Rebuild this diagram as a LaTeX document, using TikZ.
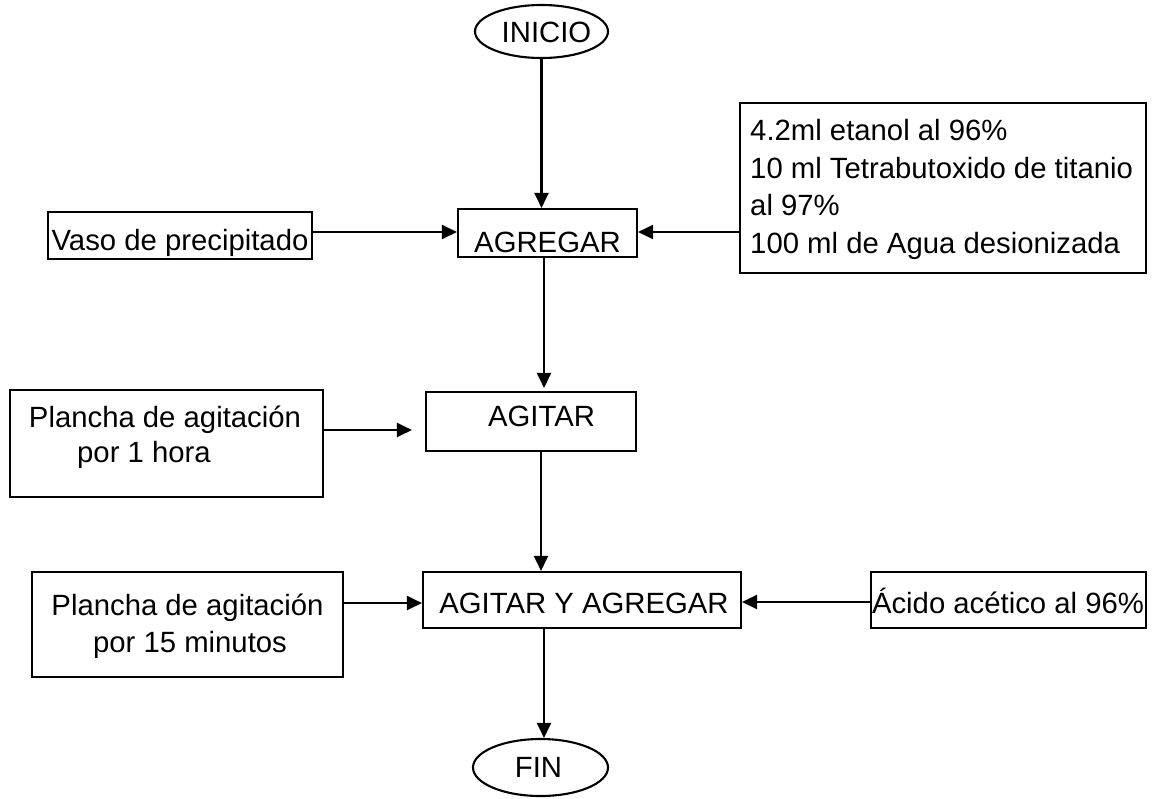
\documentclass[tikz,border=0pt]{standalone}
\usepackage{fontspec}
\setmainfont{Liberation Sans}
\usetikzlibrary{arrows.meta,shapes.geometric}
\begin{document}
\begin{tikzpicture}[x=1pt,y=-1pt,
  frame/.style={draw=black,line width=2.1pt,inner sep=0pt,rectangle},
  oval/.style={draw=black,line width=2.1pt,ellipse,inner sep=0pt},
  txt/.style={inner sep=0pt,anchor=base,font=\fontsize{29.3}{37}\selectfont},
  txtl/.style={txt,anchor=base west},
  arr/.style={draw=black,line width=2.1pt,-{Triangle[length=15pt,width=14pt]}}]
\useasboundingbox (0,0) rectangle (1153,798);
% shapes
\node[oval,minimum width=133pt,minimum height=53pt] (inicio) at (541.5,31.5) {};
\node[frame,minimum width=264pt,minimum height=47pt] (vaso) at (180,235.5) {};
\node[frame,minimum width=179pt,minimum height=48pt] (agregar) at (547.5,233) {};
\node[frame,minimum width=406pt,minimum height=170pt] (ingr) at (943,188) {};
\node[frame,minimum width=210pt,minimum height=59pt] (agitar) at (531,421.5) {};
\node[frame,minimum width=313pt,minimum height=107pt] (plancha1) at (166.5,443.5) {};
\node[frame,minimum width=318pt,minimum height=56pt] (aya) at (582,600) {};
\node[frame,minimum width=311pt,minimum height=105pt] (plancha2) at (187.5,624.5) {};
\node[frame,minimum width=275pt,minimum height=56pt] (acido) at (1008.5,600) {};
\node[oval,minimum width=135pt,minimum height=57pt] (fin) at (540.5,767.5) {};
% texts
\node[txt] (tInicio) at (546.5,42) {INICIO};
\node[txt] (tVaso) at (180,250) {Vaso de precipitado};
\node[txt] (tAgregar) at (547.5,252) {AGREGAR};
\node[txtl] (tIng1) at (750,140) {4.2ml etanol al 96\%};
\node[txtl] (tIng2) at (750,178) {10 ml Tetrabutoxido de titanio};
\node[txtl] (tIng3) at (750,215) {al 97\%};
\node[txtl] (tIng4) at (750,253) {100 ml de Agua desionizada};
\node[txt] (tAgitar) at (541.5,426) {AGITAR};
\node[txt] (tPl1a) at (165,427) {Plancha de agitación};
\node[txtl] (tPl1b) at (77,462) {por 1 hora};
\node[txt] (tAya) at (584,613) {AGITAR Y AGREGAR};
\node[txt] (tPl2a) at (187.5,615) {Plancha de agitación};
\node[txt] (tPl2b) at (190,652) {por 15 minutos};
\node[txt] (tAcido) at (1008,613) {Ácido acético al 96\%};
\node[txt] (tFin) at (538.5,777) {FIN};
% helper coordinates
\coordinate (c1) at ([yshift=3.5pt]vaso.east);
\coordinate (c2) at (ingr.west |- c1);
\coordinate (c3) at ([xshift=-3.5pt]agregar.south);
\coordinate (c4) at ([yshift=13.5pt]plancha1.east);
\coordinate (c5) at ([xshift=10pt]agitar.south);
\coordinate (c6) at ([yshift=21.5pt]plancha2.east);
\coordinate (c7) at ([yshift=-2pt]acido.west);
\coordinate (c8) at ([xshift=3.5pt]fin.north);
% connectors
\draw[arr] (inicio.south) -- (inicio.south |- agregar.north);
\draw[arr] (c1) -- (c1 -| agregar.west);
\draw[arr] (c2) -- (c2 -| agregar.east);
\draw[arr,shorten >=3pt] (c3) -- (c3 |- agitar.north);
\draw[arr,shorten >=13pt] (c4) -- (c4 -| agitar.west);
\draw[arr] (c5) -- (c5 |- aya.north);
\draw[arr] (c6) -- (c6 -| aya.west);
\draw[arr] (c7) -- (c7 -| aya.east);
\draw[arr] (c8 |- aya.south) -- (c8);
\end{tikzpicture}
\end{document}
